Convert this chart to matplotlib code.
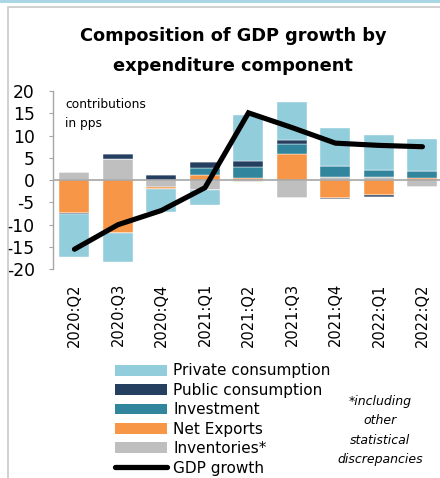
import matplotlib
matplotlib.use("Agg")
import matplotlib.pyplot as plt
from matplotlib.patches import Patch, Rectangle
from matplotlib.lines import Line2D
import numpy as np

plt.rcParams['font.family'] = ['DejaVu Sans']
plt.rcParams['axes.unicode_minus'] = False

categories = ['2020:Q2', '2020:Q3', '2020:Q4', '2021:Q1', '2021:Q2',
              '2021:Q3', '2021:Q4', '2022:Q1', '2022:Q2']
private = [-9.6, -6.5, -5.1, -3.4, 10.5, 8.5, 8.4, 7.9, 7.3]
public = [-0.4, 1.1, 1.2, 1.2, 1.2, 0.8, -0.3, -0.3, 0.0]
investment = [0.0, 0.0, 0.0, 1.7, 2.5, 2.4, 2.6, 1.6, 1.5]
net_exports = [-7.3, -11.9, -0.4, 1.1, 0.5, 5.8, -4.0, -3.4, 0.5]
inventories = [1.9, 4.7, -1.6, -2.2, -0.4, -4.1, 0.6, 0.6, -1.6]
gdp = [-15.5, -10.0, -6.8, -1.7, 15.1, 11.8, 8.3, 7.8, 7.5]

series_labels = ['Private consumption', 'Public consumption', 'Investment',
                 'Net Exports', 'Inventories*']
colors = {'Private consumption': '#92CDDC', 'Public consumption': '#243F60',
          'Investment': '#31859C', 'Net Exports': '#F79646',
          'Inventories*': '#BFBFBF'}
series = {'Private consumption': private, 'Public consumption': public,
          'Investment': investment, 'Net Exports': net_exports,
          'Inventories*': inventories}
stack_order = ['Inventories*', 'Net Exports', 'Investment',
               'Public consumption', 'Private consumption']

W, H = 440, 478
fig = plt.figure(figsize=(W / 100, H / 100), dpi=100)

# chart frame
fig.add_artist(Rectangle((0, 1 - 2.5 / H), 1, 2.5 / H, transform=fig.transFigure,
                         facecolor='#A9D7E4', edgecolor='none'))
fig.add_artist(Rectangle((8 / W, -0.1), 1.2, 1 - 7 / H + 0.1, transform=fig.transFigure,
                         facecolor='none', edgecolor='#C8C8C8', linewidth=1.2))

ax = fig.add_axes([52.7 / W, (H - 269.3) / H, 391.5 / W, 178.3 / H])
x = np.arange(len(categories))
pos_base = np.zeros(len(categories))
neg_base = np.zeros(len(categories))
for name in stack_order:
    vals = np.array(series[name], dtype=float)
    pos = np.where(vals > 0, vals, 0)
    neg = np.where(vals < 0, vals, 0)
    ax.bar(x, pos, bottom=pos_base, width=0.69, color=colors[name],
           edgecolor='white', linewidth=0.3, zorder=2)
    ax.bar(x, neg, bottom=neg_base, width=0.69, color=colors[name],
           edgecolor='white', linewidth=0.3, zorder=2)
    pos_base += pos
    neg_base += neg

ax.axhline(0, color='#A6A6A6', linewidth=1.2, zorder=3)
ax.plot(x, gdp, color='black', linewidth=3.7, zorder=4, solid_capstyle='round',
        solid_joinstyle='miter')

ax.set_xlim(-0.5, 8.5)
ax.set_ylim(-20, 20)
ax.set_yticks(np.arange(-20, 21, 5))
ax.set_xticks(x)
ax.set_xticklabels(categories, rotation=90, fontsize=10.5, va='top')
for s in ['top', 'right', 'bottom']:
    ax.spines[s].set_visible(False)
ax.spines['left'].set_color('#A6A6A6')
ax.spines['left'].set_linewidth(1.0)
ax.tick_params(axis='y', length=3, color='#A6A6A6', labelsize=12.3, pad=10)
ax.tick_params(axis='x', length=0, pad=10)
ax.patch.set_alpha(0)

fig.text(65 / W, 1 - 113.5 / H, 'contributions\nin pps', fontsize=8.8,
         va='center', ha='left', linespacing=1.6)

fig.text(233 / W, 1 - 36 / H, 'Composition of GDP growth by', fontsize=12.8,
         fontweight='bold', ha='center', va='center')
fig.text(233 / W, 1 - 66 / H, 'expenditure component', fontsize=12.8,
         fontweight='bold', ha='center', va='center')

handles = [Patch(facecolor=colors[n], edgecolor='none') for n in series_labels]
handles.append(Line2D([0], [0], color='black', linewidth=3.8, solid_capstyle='round'))
labels = series_labels + ['GDP growth']
fig.legend(handles, labels, loc='upper left',
           bbox_to_anchor=(115 / W, 1 - 363.5 / H), frameon=False, fontsize=11,
           borderpad=0, borderaxespad=0, handlelength=3.4, handleheight=0.72,
           handletextpad=0.4, labelspacing=0.29)

fig.text(380 / W, 1 - 430.5 / H, '*including\nother\nstatistical\ndiscrepancies',
         fontsize=9, style='italic', ha='center', va='center', linespacing=1.6)

fig.savefig('out.png', dpi=100)
